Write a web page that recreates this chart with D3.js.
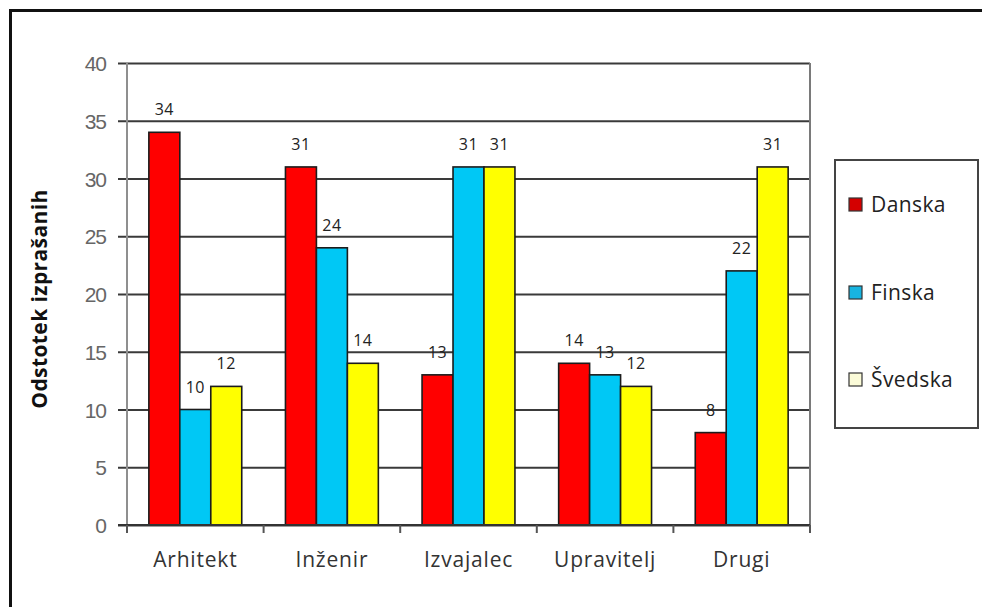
<!DOCTYPE html>
<html>
<head>
<meta charset="utf-8">
<script src="https://cdn.jsdelivr.net/npm/d3@7"></script>
<style>
  body { margin: 0; background: #fff; }
  svg { display: block; }
</style>
</head>
<body>
<div id="chart"></div>
<script>
  // data
  var categories = ["Arhitekt", "Inženir", "Izvajalec", "Upravitelj", "Drugi"];
  var seriesNames = ["Danska", "Finska", "Švedska"];
  var danska = [34, 31, 13, 14, 8];
  var finska = [10, 24, 31, 13, 22];
  var svedska = [12, 14, 31, 12, 31];
  var yTicks = [0, 5, 10, 15, 20, 25, 30, 35, 40];

  (function () {
    var colors = ["#ff0000", "#00c8f5", "#ffff00"];
    var legendColors = ["#d40000", "#17b4e0", "#fbfbd8"];

    var W = 986, H = 607;
    // plot area (note: "top" would clash with window.top)
    var pLeft = 127, pRight = 810, pTop = 63, pBottom = 525;

    var svg = d3.select("#chart").append("svg")
      .attr("width", W)
      .attr("height", H);

    // outer frame (only top and left edges visible)
    svg.append("path")
      .attr("d", "M10.5," + H + "V10.5H982")
      .attr("fill", "none")
      .attr("stroke", "#111")
      .attr("stroke-width", 3);

    var x = d3.scaleBand()
      .domain(categories)
      .range([pLeft, pRight])
      .paddingInner(0.32)
      .paddingOuter(0.16);

    var xs = d3.scaleBand()
      .domain(seriesNames)
      .range([0, x.bandwidth()]);

    var y = d3.scaleLinear().domain([0, 40]).range([pBottom, pTop]);

    // gridlines + y ticks
    var yAxis = svg.append("g")
      .attr("transform", "translate(" + pLeft + ",0)")
      .call(d3.axisLeft(y).tickValues(yTicks).tickSize(9).tickPadding(0));

    yAxis.select(".domain").remove();
    yAxis.selectAll(".tick line")
      .attr("x1", -9)
      .attr("x2", pRight - pLeft)
      .attr("stroke", "#3a3a3a")
      .attr("stroke-width", 2);
    yAxis.selectAll(".tick text")
      .attr("x", -21)
      .attr("dy", "0.36em")
      .style("font-family", "'Liberation Sans', Arial, sans-serif")
      .style("font-size", "21px")
      .style("letter-spacing", "-1px")
      .style("fill", "#666");

    // y axis line and right border
    svg.append("line")
      .attr("x1", pLeft).attr("x2", pLeft)
      .attr("y1", pTop).attr("y2", pBottom + 8)
      .attr("stroke", "#8f8f8f")
      .attr("stroke-width", 2);
    svg.append("line")
      .attr("x1", pRight).attr("x2", pRight)
      .attr("y1", pTop).attr("y2", pBottom + 8)
      .attr("stroke", "#7a7a7a")
      .attr("stroke-width", 2);

    // bars
    var allSeries = [danska, finska, svedska];
    var barData = [];
    categories.forEach(function (c, i) {
      seriesNames.forEach(function (s, j) {
        barData.push({ cat: c, series: s, idx: j, value: allSeries[j][i] });
      });
    });

    svg.selectAll(".bar")
      .data(barData)
      .enter()
      .append("rect")
      .attr("class", "bar")
      .attr("x", function (d) { return x(d.cat) + xs(d.series); })
      .attr("y", function (d) { return y(d.value); })
      .attr("width", xs.bandwidth())
      .attr("height", function (d) { return pBottom - y(d.value); })
      .attr("fill", function (d) { return colors[d.idx]; })
      .attr("stroke", "#1c1c1c")
      .attr("stroke-width", 1.6);

    // value labels
    svg.selectAll(".val")
      .data(barData)
      .enter()
      .append("text")
      .attr("class", "val")
      .attr("x", function (d) { return x(d.cat) + xs(d.series) + xs.bandwidth() / 2; })
      .attr("y", function (d) { return y(d.value) - 17; })
      .attr("text-anchor", "middle")
      .style("font-family", "'Open Sans', sans-serif")
      .style("font-size", "16px")
      .style("letter-spacing", "0.5px")
      .style("fill", "#222")
      .text(function (d) { return d.value; });

    // x axis
    var xAxis = svg.append("g")
      .attr("transform", "translate(0," + pBottom + ")")
      .call(d3.axisBottom(x).tickSize(0).tickPadding(0));
    xAxis.select(".domain").remove();
    xAxis.selectAll(".tick text")
      .attr("y", 42)
      .attr("dy", 0)
      .style("font-family", "'Open Sans', sans-serif")
      .style("font-size", "21px")
      .style("letter-spacing", "0.8px")
      .style("fill", "#333");

    svg.append("line")
      .attr("x1", pLeft - 9).attr("x2", pRight)
      .attr("y1", pBottom).attr("y2", pBottom)
      .attr("stroke", "#333")
      .attr("stroke-width", 2);

    // tick marks between categories
    svg.selectAll(".cattick")
      .data(d3.range(categories.length + 1))
      .enter()
      .append("line")
      .attr("x1", function (k) { return pLeft + k * (pRight - pLeft) / categories.length; })
      .attr("x2", function (k) { return pLeft + k * (pRight - pLeft) / categories.length; })
      .attr("y1", pBottom)
      .attr("y2", pBottom + 8)
      .attr("stroke", "#555")
      .attr("stroke-width", 2);

    // y axis title
    svg.append("text")
      .attr("transform", "translate(47,299) rotate(-90)")
      .attr("text-anchor", "middle")
      .style("font-family", "'Open Sans', sans-serif")
      .style("font-weight", "bold")
      .style("font-size", "21px")
      .style("letter-spacing", "0.4px")
      .style("fill", "#111")
      .text("Odstotek izprašanih");

    // legend
    var legend = svg.append("g");
    legend.append("rect")
      .attr("x", 835).attr("y", 160)
      .attr("width", 143).attr("height", 268)
      .attr("fill", "#fff")
      .attr("stroke", "#444")
      .attr("stroke-width", 2);

    var legendY = [205, 293, 380];
    var items = legend.selectAll(".item")
      .data(seriesNames)
      .enter()
      .append("g")
      .attr("class", "item")
      .attr("transform", function (d, i) { return "translate(849," + legendY[i] + ")"; });

    items.append("rect")
      .attr("x", 0).attr("y", -7)
      .attr("width", 13).attr("height", 13)
      .attr("fill", function (d, i) { return legendColors[i]; })
      .attr("stroke", "#333")
      .attr("stroke-width", 1.2);

    items.append("text")
      .attr("x", 22)
      .attr("dy", "0.35em")
      .style("font-family", "'Open Sans', sans-serif")
      .style("font-size", "21px")
      .style("letter-spacing", "0.4px")
      .style("fill", "#222")
      .text(function (d) { return d; });
  })();
</script>
</body>
</html>
